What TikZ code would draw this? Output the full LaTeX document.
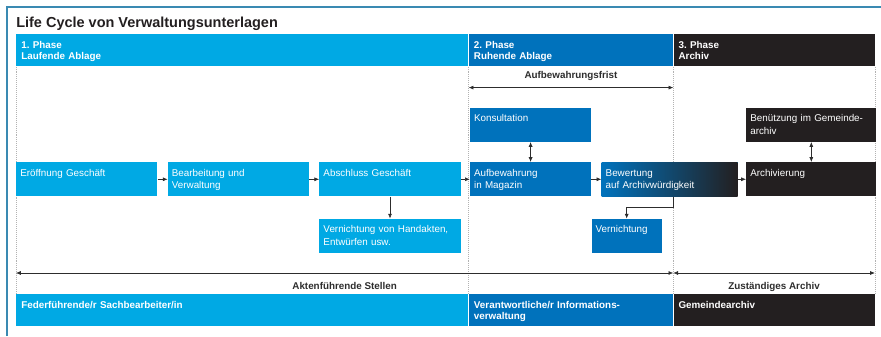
\documentclass[tikz,border=0pt]{standalone}
\usepackage{fontspec}
\setmainfont{Liberation Sans}
\usetikzlibrary{arrows.meta,positioning}
\definecolor{phaseone}{RGB}{0,169,228}
\definecolor{phasetwo}{RGB}{0,114,188}
\definecolor{phasethree}{RGB}{35,31,32}
\definecolor{framecol}{RGB}{58,138,178}
\definecolor{labelgray}{RGB}{45,45,45}
\tikzset{
  phasebar/.style = {
    rectangle,
    text=white,
    align=left,
    minimum width=#1,
    text width=#1-2.5mm,
    minimum height=8mm,
    inner xsep=1.25mm,
    inner ysep=1.5mm,
    text height=2mm,
    text depth=3mm,
    font=\fontsize{7}{8.2}\selectfont\bfseries
  },
  stepbox/.style = {
    rectangle,
    fill=phaseone,
    text=white,
    align=left,
    minimum width=#1,
    text width=#1-2mm,
    minimum height=8.5mm,
    inner xsep=1mm,
    inner ysep=1.5mm,
    text height=2mm,
    text depth=3.5mm,
    font=\fontsize{7}{8.9}\selectfont
  },
  steparrow/.style = {
    -{Latex[length=1.2mm,width=1mm]},
    draw=labelgray,
    line width=0.45pt
  },
  spanarrow/.style = {
    {Latex[length=1.2mm,width=1mm]}-{Latex[length=1.2mm,width=1mm]},
    draw=labelgray,
    line width=0.45pt
  },
  spanlabel/.style = {
    text=labelgray,
    font=\fontsize{7}{8.2}\selectfont\bfseries
  },
  phaseline/.style = {
    densely dotted,
    draw=black!30,
    line width=0.4pt
  }
}

\begin{document}
\begin{tikzpicture}[x=0.025cm, y=-0.025cm]
    \useasboundingbox (0,0) rectangle (881,336);
    \draw[framecol, line width=0.8pt] (7,336) -- (7,7) -- (881,7);
    \node[anchor=base west, inner sep=0pt, text=phasethree, font=\fontsize{10.3}{12}\selectfont\bfseries] (titel) at (16,27) {Life Cycle von Verwaltungsunterlagen};

    % Phasen oben
    \node[phasebar=11.3cm, fill=phaseone, anchor=north west] (phaseeins) at (16,34) {1.\ Phase\\Laufende Ablage};
    \node[phasebar=5.1cm, fill=phasetwo, right=0mm of phaseeins] (phasezwei) {2.\ Phase\\Ruhende Ablage};
    \node[phasebar=5.025cm, fill=phasethree, right=0mm of phasezwei] (phasedrei) {3.\ Phase\\Archiv};

    % Zustaendigkeiten unten
    \node[phasebar=11.3cm, fill=phaseone, anchor=north west] (rolleeins) at (16,294) {Federführende/r Sachbearbeiter/in};
    \node[phasebar=5.1cm, fill=phasetwo, right=0mm of rolleeins] (rollezwei) {Verantwortliche/r Informations-\\verwaltung};
    \node[phasebar=5.025cm, fill=phasethree, right=0mm of rollezwei] (rolledrei) {Gemeindearchiv};

    \draw[phaseline] (phaseeins.south west) -- (rolleeins.north west);
    \draw[phaseline] (phasezwei.south west) -- (rollezwei.north west);
    \draw[phaseline] (phasedrei.south west) -- (rolledrei.north west);
    \draw[phaseline] (phasedrei.south east) -- (rolledrei.north east);

    % Ablauf
    \node[stepbox=3.525cm, anchor=north west] (eroeffnung) at (16,162) {Eröffnung Geschäft};
    \node[stepbox=3.525cm, right=2.5mm of eroeffnung] (bearbeitung) {Bearbeitung und\\Verwaltung};
    \node[stepbox=3.525cm, right=2.5mm of bearbeitung] (abschluss) {Abschluss Geschäft};
    \node[stepbox=3.025cm, fill=phasetwo, right=2.25mm of abschluss] (aufbewahrung) {Aufbewahrung\\in Magazin};
    \node[stepbox=3.4cm, left color=phasetwo, middle color=phasetwo!55!phasethree, right color=phasethree, right=2.5mm of aufbewahrung] (bewertung) {Bewertung\\auf Archivwürdigkeit};
    \node[stepbox=3.25cm, fill=phasethree, right=2mm of bewertung] (archivierung) {Archivierung};
    \node[stepbox=3.025cm, fill=phasetwo, above=5mm of aufbewahrung] (konsultation) {Konsultation};
    \node[stepbox=3.25cm, fill=phasethree, above=5mm of archivierung] (benutzung) {Benützung im Gemeinde-\\archiv};
    \node[stepbox=3.525cm, below=5.5mm of abschluss] (handakten) {Vernichtung von Handakten,\\Entwürfen usw.};
    \node[stepbox=1.75cm, fill=phasetwo, below=5.5mm of aufbewahrung.south east, anchor=north west] (vernichtung) {Vernichtung};

    \draw[steparrow] (eroeffnung) -- (bearbeitung);
    \draw[steparrow] (bearbeitung) -- (abschluss);
    \draw[steparrow] (abschluss) -- (aufbewahrung);
    \draw[steparrow] (aufbewahrung) -- (bewertung);
    \draw[steparrow] (bewertung) -- (archivierung);
    \draw[steparrow] (abschluss) -- (handakten);
    \draw[spanarrow] (konsultation) -- (aufbewahrung);
    \draw[spanarrow] (benutzung) -- (archivierung);
    \draw[steparrow] (bewertung.south -| phasezwei.east) -- ++(0,-2.75mm) -| (vernichtung.north);

    % Fristen und Stellen
    \draw[spanarrow] ([yshift=-5.25mm]phasezwei.south west) -- node[spanlabel, above=0.5mm] {Aufbewahrungsfrist} ([yshift=-5.25mm]phasezwei.south east);
    \draw[spanarrow] ([yshift=5.25mm]rolleeins.north west) -- node[spanlabel, below=1.2mm] {Aktenführende Stellen} ([yshift=5.25mm]rollezwei.north east);
    \draw[spanarrow] ([yshift=5.25mm]rolledrei.north west) -- node[spanlabel, below=1.2mm] {Zuständiges Archiv} ([yshift=5.25mm]rolledrei.north east);
\end{tikzpicture}
\end{document}
